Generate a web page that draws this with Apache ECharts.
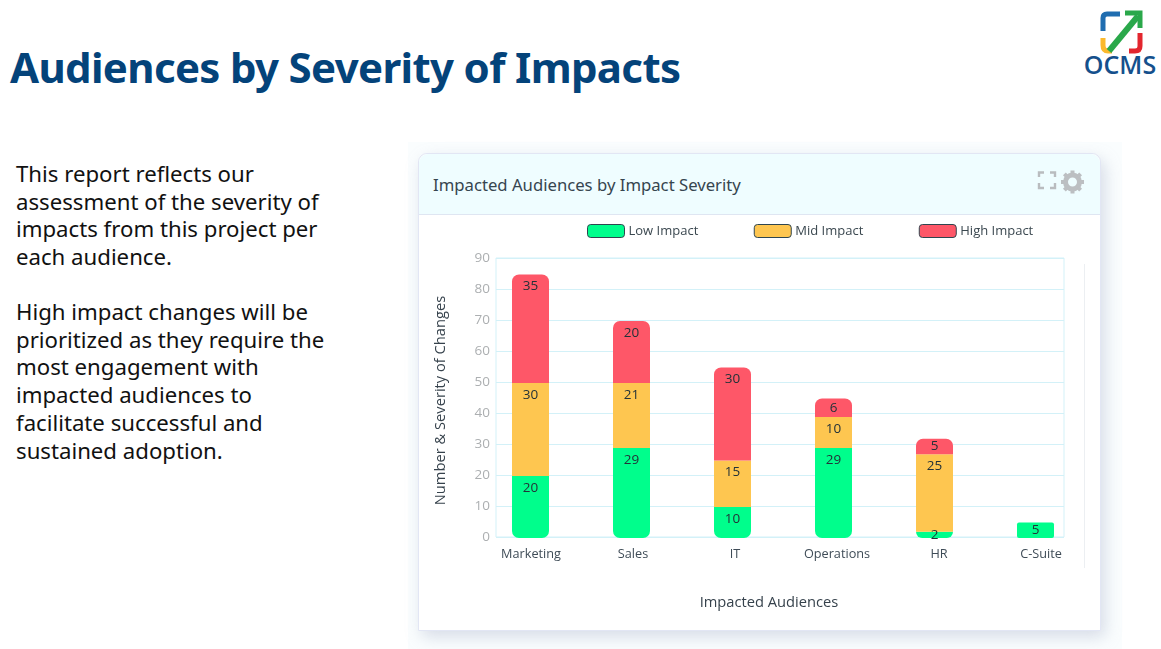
<!DOCTYPE html>
<html>
<head>
<meta charset="utf-8">
<title>Audiences by Severity of Impacts</title>
<script src="https://cdn.jsdelivr.net/npm/echarts@6/dist/echarts.min.js"></script>
<style>
  html, body { margin: 0; padding: 0; background: #fff; }
  body { position: relative; width: 1161px; height: 649px; overflow: hidden; font-family: "Noto Sans", sans-serif; }
  #headline { position: absolute; left: 10px; top: 37px; margin: 0; font-size: 42px; line-height: 60px; font-weight: 700; letter-spacing: -0.66px; color: #04437a; white-space: nowrap; }
  .copy { position: absolute; left: 16px; margin: 0; font-size: 22.2px; line-height: 27.7px; color: #111; white-space: nowrap; }
  #glow { position: absolute; left: 408px; top: 142px; width: 714px; height: 507px; background: #fafdfe; }
  #card { position: absolute; left: 418px; top: 153px; width: 681px; height: 476px; background: #fff; border: 1px solid #e2e6f4; border-radius: 9px 9px 0 0; box-shadow: 4px 6px 16px rgba(150, 160, 190, .35); }
  #cardHead { position: absolute; left: 0; top: 0; right: 0; height: 60px; background: #effdff; border-bottom: 1px solid #dfe6f2; border-radius: 9px 9px 0 0; }
  #cardTitle { position: absolute; left: 14px; top: 19px; font-size: 16.7px; color: #36454f; white-space: nowrap; }
  #rightRule { position: absolute; left: 1084px; top: 264px; width: 1px; height: 304px; background: #eceff2; }
  #chart { position: absolute; left: 0; top: 0; width: 1161px; height: 649px; }
  svg { position: absolute; }
</style>
</head>
<body>
<div id="glow"></div>
<h1 id="headline">Audiences by Severity of Impacts</h1>
<p class="copy" style="top:160px">This report reflects our<br>assessment of the severity of<br>impacts from this project per<br>each audience.</p>
<p class="copy" style="top:298px">High impact changes will be<br>prioritized as they require the<br>most engagement with<br>impacted audiences to<br>facilitate successful and<br>sustained adoption.</p>

<svg style="left:1080px;top:8px" width="81" height="70" viewBox="0 0 81 70">
  <path d="M40 6 H27 Q23 6 23 10 V23" fill="none" stroke="#1f6db0" stroke-width="5"/>
  <path d="M23 30 V37 Q23 43 28 43 H32" fill="none" stroke="#fbb92d" stroke-width="5"/>
  <path d="M49 43 H55 Q60 43 60 38 V25" fill="none" stroke="#e3262e" stroke-width="5"/>
  <path d="M45 5 H60 V20" fill="none" stroke="#2aa84a" stroke-width="5"/>
  <path d="M29 43 L58 8" fill="none" stroke="#2aa84a" stroke-width="6"/>
  <text x="40" y="66" text-anchor="middle" font-family="Open Sans, sans-serif" font-size="25" font-weight="600" fill="#15508c">OCMS</text>
</svg>

<div id="card">
  <div id="cardHead"><div id="cardTitle">Impacted Audiences by Impact Severity</div></div>
</div>
<div id="rightRule"></div>

<svg style="left:1036px;top:169px" width="52" height="26" viewBox="0 0 52 26">
  <path d="M3 8 V3.5 H8 M14 3.5 H19 V8 M3 14 V19 H8 M14 19 H19 V14" fill="none" stroke="#b9bcbf" stroke-width="2.4"/>
  <circle cx="36.5" cy="13" r="7" fill="none" stroke="#bcbfc2" stroke-width="5"/>
  <path d="M36.5 1.5 V5 M36.5 21 V24.5 M25 13 H28.5 M44.5 13 H48 M28.4 4.9 L30.8 7.3 M42.2 18.7 L44.6 21.1 M28.4 21.1 L30.8 18.7 M42.2 7.3 L44.6 4.9" stroke="#bcbfc2" stroke-width="4"/>
</svg>

<div id="chart"></div>

<script>
const categories = ['Marketing', 'Sales', 'IT', 'Operations', 'HR', 'C-Suite'];
const lowImpact = [20, 29, 10, 29, 2, 5];
const midImpact = [30, 21, 15, 10, 25, null];
const highImpact = [35, 20, 30, 6, 5, null];
const valueTicks = { min: 0, max: 90, interval: 10 };

const fontName = '"Open Sans", sans-serif';
const lineColor = '#d3f1f8';

// round the outer ends of each stack only
const radiusFor = (name, i) => {
  const r = 7;
  if (name === 'low') return highImpact[i] == null ? [2, 2, 2, 2] : [0, 0, r, r];
  if (name === 'high') return [r, r, 0, 0];
  return 0;
};
const toData = (values, name) => values.map((v, i) => {
  const item = { value: v, itemStyle: { borderRadius: radiusFor(name, i) } };
  // thin segments can't take a top label, centre it
  if (v != null && v < 8) item.label = { position: 'inside' };
  return item;
});

const barSeries = (label, values, key, color) => ({
  name: label,
  type: 'bar',
  stack: 'impact',
  xAxisIndex: 1,
  yAxisIndex: 1,
  barWidth: 37,
  itemStyle: { color },
  label: { show: true, position: 'insideTop', distance: 5, fontFamily: fontName, fontSize: 13.5, color: '#233238' },
  data: toData(values, key)
});

const myChart = echarts.init(document.getElementById('chart'));
myChart.setOption({
  animation: false,
  textStyle: { fontFamily: fontName },
  legend: {
    left: 587,
    top: 224,
    padding: 0,
    itemWidth: 37,
    itemHeight: 13,
    itemGap: 55.5,
    icon: 'roundRect',
    itemStyle: { borderColor: '#2f4650', borderWidth: 1 },
    textStyle: { fontFamily: fontName, fontSize: 13, color: '#3b4850', padding: [0, 0, 0, -1] },
    data: ['Low Impact', 'Mid Impact', 'High Impact']
  },
  // grid 0 is the drawn frame, grid 1 holds the bars, grid 2 the category labels
  grid: [
    { left: 496, top: 258, width: 568, height: 279, show: true, borderColor: lineColor, borderWidth: 1 },
    { left: 480, top: 259, width: 606, height: 279 },
    { left: 480, top: 258, width: 612, height: 279 }
  ],
  xAxis: [
    { type: 'category', gridIndex: 0, data: categories, show: false },
    { type: 'category', gridIndex: 1, data: categories, show: false },
    {
      type: 'category',
      gridIndex: 2,
      data: categories,
      axisLine: { show: false },
      axisTick: { show: false },
      axisLabel: { margin: 11, fontSize: 12.7, color: '#3f4c57' },
      name: 'Impacted Audiences',
      nameLocation: 'middle',
      nameGap: 58,
      nameTextStyle: { fontSize: 14.7, color: '#36424c', padding: [0, 34, 0, 0] }
    }
  ],
  yAxis: [
    {
      type: 'value',
      gridIndex: 0,
      ...valueTicks,
      axisLine: { show: false },
      axisTick: { show: false },
      axisLabel: { margin: 6, fontSize: 13.5, color: '#acafb1' },
      splitLine: { show: true, lineStyle: { color: lineColor, width: 1 } },
      name: 'Number & Severity of Changes',
      nameLocation: 'middle',
      nameGap: 48,
      nameTextStyle: { fontSize: 14.7, color: '#36424c', padding: [0, 6, 0, 0] }
    },
    { type: 'value', gridIndex: 1, ...valueTicks, show: false },
    { type: 'value', gridIndex: 2, ...valueTicks, show: false }
  ],
  series: [
    barSeries('Low Impact', lowImpact, 'low', '#00fe8c'),
    barSeries('Mid Impact', midImpact, 'mid', '#fec650'),
    barSeries('High Impact', highImpact, 'high', '#fe5768')
  ]
});
</script>
</body>
</html>
